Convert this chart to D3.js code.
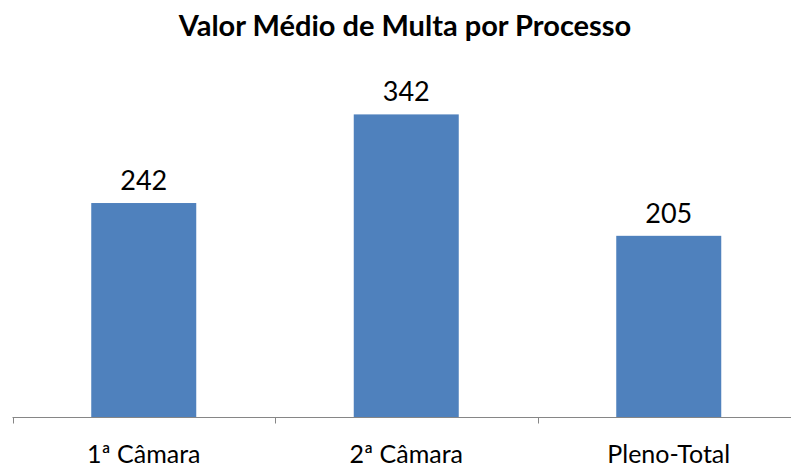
<!DOCTYPE html>
<html>
<head>
<meta charset="utf-8">
<script src="https://cdn.jsdelivr.net/npm/d3@7"></script>
<style>
  body { margin: 0; background: #fff; }
  svg text { font-family: Lato, "Open Sans", sans-serif; fill: #000; }
</style>
</head>
<body>
<svg width="791" height="470"></svg>
<script>
// dados do gráfico
const categorias = ["1ª Câmara", "2ª Câmara", "Pleno-Total"];
const valores = [242, 342, 205];
const titulo = "Valor Médio de Multa por Processo";

const svg = d3.select("svg");

// eixos
const x = d3.scaleBand()
    .domain(categorias)
    .range([12.5, 800])
    .paddingInner(0.6)
    .paddingOuter(0.3);

const y = d3.scaleLinear()
    .domain([0, 400])
    .range([417.5, 63]);

// título
svg.append("text")
    .attr("x", 405)
    .attr("y", 36)
    .attr("text-anchor", "middle")
    .style("font-size", "29px")
    .style("font-weight", "bold")
    .text(titulo);

// barras
svg.selectAll("rect.barra")
    .data(valores)
    .enter()
    .append("rect")
    .attr("class", "barra")
    .attr("x", (d, i) => x(categorias[i]))
    .attr("y", d => y(d))
    .attr("width", x.bandwidth())
    .attr("height", d => y(0) - y(d))
    .attr("fill", "#4F81BD");

// rótulos de valor
svg.selectAll("text.valor")
    .data(valores)
    .enter()
    .append("text")
    .attr("class", "valor")
    .attr("x", (d, i) => x(categorias[i]) + x.bandwidth() / 2)
    .attr("y", d => y(d) - 13)
    .attr("text-anchor", "middle")
    .style("font-size", "27px")
    .text(d => d);

// linha do eixo e marcas entre categorias
const step = x.step();
const limites = [12.5, 12.5 + step, 12.5 + 2 * step, 12.5 + 3 * step];

svg.append("line")
    .attr("x1", 12.5).attr("x2", 791)
    .attr("y1", y(0)).attr("y2", y(0))
    .attr("stroke", "#868686")
    .attr("stroke-width", 1);

svg.selectAll("line.marca")
    .data(limites)
    .enter()
    .append("line")
    .attr("class", "marca")
    .attr("x1", d => Math.round(d) + 0.5).attr("x2", d => Math.round(d) + 0.5)
    .attr("y1", y(0)).attr("y2", y(0) + 6)
    .attr("stroke", "#868686");

// rótulos das categorias
svg.selectAll("text.categoria")
    .data(categorias)
    .enter()
    .append("text")
    .attr("class", "categoria")
    .attr("x", d => x(d) + x.bandwidth() / 2)
    .attr("y", 463)
    .attr("text-anchor", "middle")
    .style("font-size", "25px")
    .text(d => d);
</script>
</body>
</html>
